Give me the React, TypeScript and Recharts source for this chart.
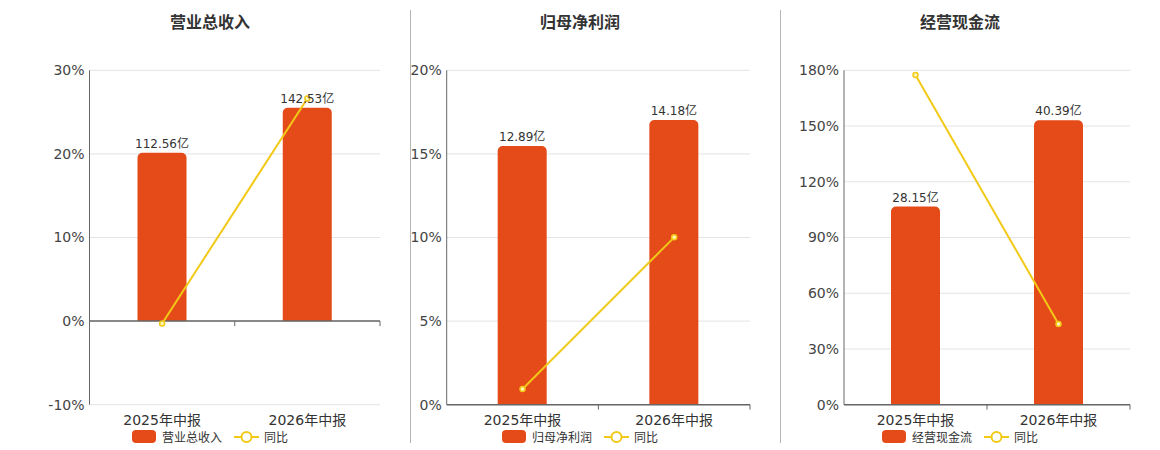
import React from 'react'
import { ComposedChart, Bar, Line, XAxis, YAxis, CartesianGrid, LabelList, ReferenceLine } from 'recharts'

const CATEGORIES = ['2025年中报', '2026年中报']

const REVENUE = [112.56, 142.53]
const REVENUE_YOY = [-0.28, 26.63]
const PROFIT = [12.89, 14.18]
const PROFIT_YOY = [0.94, 10.01]
const CASHFLOW = [28.15, 40.39]
const CASHFLOW_YOY = [177.5, 43.48]

const REVENUE_TICKS = [-10, 0, 10, 20, 30]
const PROFIT_TICKS = [0, 5, 10, 15, 20]
const CASHFLOW_TICKS = [0, 30, 60, 90, 120, 150, 180]

const BAR_COLOR = '#E54B19'
const LINE_COLOR = '#F2C916'
const AXIS_COLOR = '#666'
const FONT = '"DejaVu Sans", Verdana, "Noto Sans CJK SC", sans-serif'

const CHART_H = 450
const MARGIN_TOP = 70.3
const MARGIN_BOTTOM = 15.3
const XAXIS_H = 30
const PLOT_H = CHART_H - MARGIN_TOP - MARGIN_BOTTOM - XAXIS_H

interface PanelProps {
  title: string
  name: string
  amounts: number[]
  yoy: number[]
  ticks: number[]
  amtMax: number
  left: number
  width: number
  marginLeft: number
  marginRight: number
  yWidth: number
  center: number
}

function Panel(p: PanelProps) {
  const data = CATEGORIES.map((cat, i) => ({ cat, amt: p.amounts[i], yoy: p.yoy[i] }))
  const min = p.ticks[0]
  const max = p.ticks[p.ticks.length - 1]
  // keep the hidden amount axis' zero aligned with the percent axis' zero
  const amtMin = min < 0 ? (p.amtMax * min) / max : 0
  const plotW = p.width - p.marginLeft - p.marginRight - p.yWidth
  const band = plotW / CATEGORIES.length
  const zeroOffset = (PLOT_H * (0 - min)) / (max - min)

  const Tick = (props: any) => {
    const { x, y, payload } = props
    const y0 = y - zeroOffset
    return (
      <g>
        <text x={x} y={y + 15} textAnchor="middle" dominantBaseline="central" fontSize={14} fill="#333">
          {payload.value}
        </text>
        <line x1={x + band / 2} x2={x + band / 2} y1={y0} y2={y0 + 5} stroke={AXIS_COLOR} strokeWidth={1} />
      </g>
    )
  }

  return (
    <>
      <div
        style={{
          position: 'absolute', left: p.center - 100, width: 200, top: 13, textAlign: 'center',
          fontSize: 16, lineHeight: '20px', fontWeight: 'bold', color: '#333', fontFamily: FONT,
        }}
      >
        {p.title}
      </div>
      <div style={{ position: 'absolute', left: p.left, top: 0, fontFamily: FONT }}>
        <ComposedChart
          width={p.width}
          height={CHART_H}
          data={data}
          margin={{ top: MARGIN_TOP, right: p.marginRight, bottom: MARGIN_BOTTOM, left: p.marginLeft }}
        >
          <CartesianGrid yAxisId="pct" vertical={false} stroke="#e4e4e4" />
          <XAxis
            dataKey="cat"
            height={XAXIS_H}
            interval={0}
            tickLine={false}
            tickSize={0}
            tickMargin={0}
            axisLine={min < 0 ? false : { stroke: AXIS_COLOR, strokeWidth: 1.5 }}
            tick={<Tick />}
          />
          <YAxis
            yAxisId="pct"
            width={p.yWidth}
            domain={[min, max]}
            ticks={p.ticks}
            interval={0}
            tickFormatter={v => `${v}%`}
            tickLine={false}
            tickSize={0}
            tickMargin={5}
            axisLine={{ stroke: AXIS_COLOR, strokeWidth: 1 }}
            tick={{ fontSize: 14, fill: '#444' }}
          />
          <YAxis yAxisId="amt" orientation="right" width={0} hide domain={[amtMin, p.amtMax]} />
          {min < 0 && <ReferenceLine yAxisId="pct" y={0} stroke={AXIS_COLOR} strokeWidth={1.5} />}
          <Bar
            yAxisId="amt"
            dataKey="amt"
            fill={BAR_COLOR}
            barSize={49}
            radius={[5, 5, 0, 0]}
            isAnimationActive={false}
          >
            <LabelList dataKey="amt" position="top" offset={5} formatter={(v: any) => `${v}亿`} fill="#333" fontSize={12} />
          </Bar>
          <Line
            yAxisId="pct"
            type="linear"
            dataKey="yoy"
            stroke={LINE_COLOR}
            strokeWidth={2}
            dot={{ r: 2.5, fill: '#fff6b8', stroke: LINE_COLOR, strokeWidth: 1.5 }}
            activeDot={false}
            isAnimationActive={false}
          />
        </ComposedChart>
      </div>
      <div
        style={{
          position: 'absolute', left: p.center - 120, width: 240, top: 430, height: 13,
          display: 'flex', justifyContent: 'center', alignItems: 'center',
          fontSize: 12, color: '#333', fontFamily: FONT,
        }}
      >
        <span style={{ width: 24, height: 13, borderRadius: 4, background: BAR_COLOR, display: 'inline-block' }} />
        <span style={{ marginLeft: 6 }}>{p.name}</span>
        <svg width={25} height={14} style={{ marginLeft: 12 }}>
          <line x1={0} x2={25} y1={7} y2={7} stroke={LINE_COLOR} strokeWidth={2} />
          <circle cx={12.5} cy={7} r={5} fill="#fff" stroke={LINE_COLOR} strokeWidth={2} />
        </svg>
        <span style={{ marginLeft: 5 }}>同比</span>
      </div>
    </>
  )
}

export default function App() {
  return (
    <div style={{ position: 'absolute', left: 0, top: 0, width: 1160, height: 450, background: '#fff' }}>
      <Panel
        title="营业总收入" name="营业总收入" amounts={REVENUE} yoy={REVENUE_YOY} ticks={REVENUE_TICKS}
        amtMax={167.6} left={0} width={400} marginLeft={29.5} marginRight={20} yWidth={60} center={210}
      />
      <Panel
        title="归母净利润" name="归母净利润" amounts={PROFIT} yoy={PROFIT_YOY} ticks={PROFIT_TICKS}
        amtMax={16.66} left={390} width={380} marginLeft={6.7} marginRight={20} yWidth={50} center={580}
      />
      <Panel
        title="经营现金流" name="经营现金流" amounts={CASHFLOW} yoy={CASHFLOW_YOY} ticks={CASHFLOW_TICKS}
        amtMax={47.5} left={780} width={380} marginLeft={4} marginRight={30} yWidth={60} center={960}
      />
      <div style={{ position: 'absolute', left: 410, top: 10, width: 1, height: 433, background: '#b5b5b5' }} />
      <div style={{ position: 'absolute', left: 780, top: 10, width: 1, height: 433, background: '#b5b5b5' }} />
    </div>
  )
}
